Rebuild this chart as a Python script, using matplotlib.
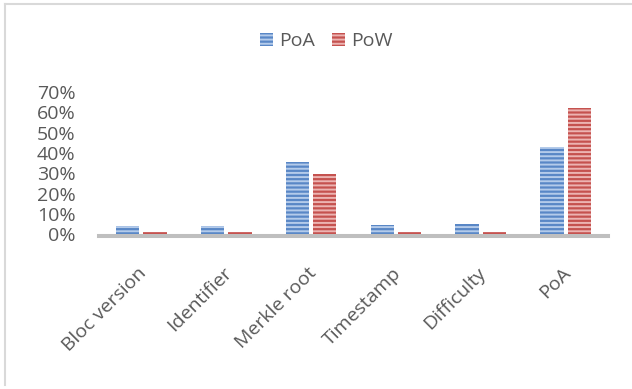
import matplotlib
matplotlib.use("Agg")
import matplotlib.pyplot as plt
import matplotlib.transforms as mtransforms
from matplotlib.lines import Line2D
import numpy as np

categories = ["Bloc version", "Identifier", "Merkle root", "Timestamp", "Difficulty", "PoA"]
poa = [4.1, 4.1, 35.5, 4.7, 5.2, 43.1]
pow_ = [1.3, 1.3, 29.7, 1.3, 1.3, 62.2]
yticks = [0, 10, 20, 30, 40, 50, 60, 70]

plt.rcParams['font.family'] = ['Open Sans', 'DejaVu Sans']
plt.rcParams['hatch.linewidth'] = 1.4
txt = '#595959'

W, H = 632, 389
fig = plt.figure(figsize=(W / 100, H / 100), dpi=100)
ax = fig.add_axes([99 / W, 1 - 234.3 / H, 509 / W, 142.4 / H])

# axis line first (set_position resets the ticks)
for s in ['top', 'right', 'left']:
    ax.spines[s].set_visible(False)
ax.spines['bottom'].set_color('#bfbfbf')
ax.spines['bottom'].set_linewidth(2.9)
ax.spines['bottom'].set_position(('outward', 1.4))

x = np.arange(len(categories))
bw = 0.275
off = 0.161
b1 = ax.bar(x - off, poa, bw, color='#5987c6', edgecolor='#b4cbea', linewidth=0,
            hatch='----', label='PoA', zorder=3)
b2 = ax.bar(x + off, pow_, bw, color='#c5524f', edgecolor='#ecb4b2', linewidth=0,
            hatch='----', label='PoW', zorder=3)

ax.set_xlim(-0.5, len(categories) - 0.5)
ax.set_ylim(0, 70)
ax.set_yticks(yticks)
ax.set_yticklabels([f"{v}%" for v in yticks])
ax.tick_params(axis='y', length=0, pad=17, labelsize=14, labelcolor=txt)

ax.set_xticks(x)
ax.tick_params(axis='x', length=0, pad=20, labelsize=14, labelcolor=txt)
ax.set_xticklabels(categories, rotation=45, ha='right', va='top', rotation_mode='anchor')
shift = mtransforms.ScaledTranslation(-4 / 100, 0, fig.dpi_scale_trans)
for lab in ax.get_xticklabels():
    lab.set_transform(lab.get_transform() + shift)

fig.legend(handles=[b1, b2], loc='center', bbox_to_anchor=(326.5 / W, 1 - 41 / H),
           ncol=2, frameon=False, fontsize=14, labelcolor=txt,
           handlelength=0.67, handleheight=0.67, handletextpad=0.3,
           columnspacing=0.9, borderaxespad=0)

fig.add_artist(Line2D([5 / W, 1], [1 - 4 / H, 1 - 4 / H], color='#d9d9d9', lw=1.5,
                      transform=fig.transFigure))
fig.add_artist(Line2D([5 / W, 5 / W], [1 - 4 / H, 1 - 385 / H], color='#d9d9d9', lw=1.5,
                      transform=fig.transFigure))

fig.savefig('out.png', dpi=100)
